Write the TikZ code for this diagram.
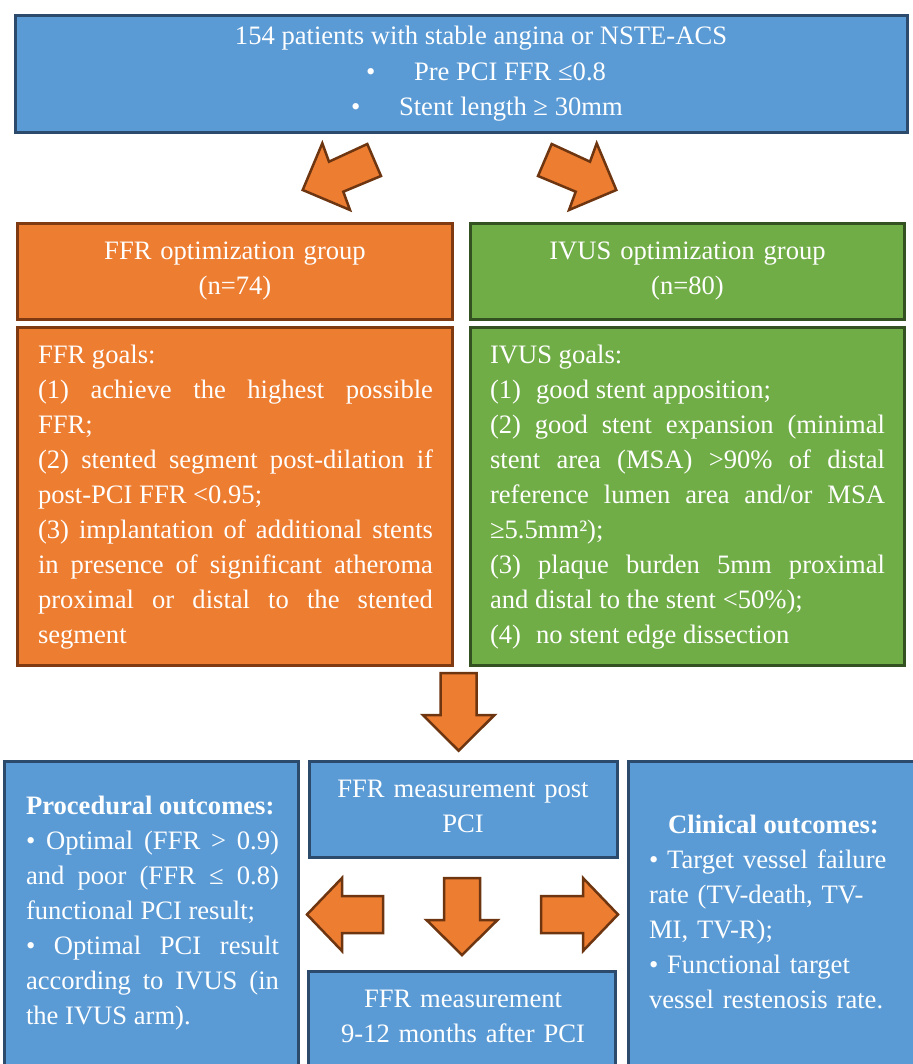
\documentclass[tikz,border=0pt]{standalone}
\usepackage{fontspec}
\setmainfont{Liberation Serif}
\definecolor{bluefill}{HTML}{5B9BD5}
\definecolor{blueline}{HTML}{2C4A6B}
\definecolor{orangefill}{HTML}{ED7D31}
\definecolor{orangeline}{HTML}{7F3A12}
\definecolor{greenfill}{HTML}{70AD47}
\definecolor{greenline}{HTML}{345221}
\definecolor{arrowline}{HTML}{6E3511}
\newcommand\mkbox[6]{\node[#1, minimum width={#5-#3-3}, minimum height={#6-#4-3}] (#2) at ({#3+1.5},{#4+1.5}) {};}
\newcommand\bodytext{\fontsize{26.6}{35}\selectfont}
\newcommand\parsetup{\parindent=0pt\relax\tolerance=10000\relax\hyphenpenalty=10000\relax\exhyphenpenalty=10000\relax}
\tikzset{
  boxbase/.style={rectangle, inner sep=0pt, outer sep=0pt, line width=3pt, anchor=north west},
  bluebox/.style={boxbase, draw=blueline, fill=bluefill},
  orangebox/.style={boxbase, draw=orangeline, fill=orangefill},
  greenbox/.style={boxbase, draw=greenline, fill=greenfill},
  blockarrow/.style={draw=arrowline, fill=orangefill, line width=2.5pt, line join=miter},
  txt/.style={text=white, inner sep=0pt, outer sep=0pt, font=\bodytext},
}
\begin{document}
\begin{tikzpicture}[x=1pt,y=-1pt]
\useasboundingbox (0,0) rectangle (912,1064);

% boxes
\mkbox{bluebox}{top}{14}{14}{909}{134.5}
\mkbox{orangebox}{ffrgrp}{16}{222}{454}{321}
\mkbox{greenbox}{ivusgrp}{469}{222}{906}{321}
\mkbox{orangebox}{ffrgoals}{16}{326}{454}{667}
\mkbox{greenbox}{ivusgoals}{469}{326}{906}{667}
\mkbox{bluebox}{proc}{3}{760}{300}{1072}
\mkbox{bluebox}{postpci}{308}{760}{619}{859}
\mkbox{bluebox}{followup}{307}{970}{617}{1072}
\mkbox{bluebox}{clin}{627}{760}{918}{1072}

% top texts
\node[txt, anchor=base] (toptxt) at (481,45) {154 patients with stable angina or NSTE-ACS};
\node[txt, anchor=base west] (bul1) at (366,80.5) {•};
\node[txt, anchor=base west] (crit1) at (414,80.5) {Pre PCI FFR ≤0.8};
\node[txt, anchor=base west] (bul2) at (351,116) {•};
\node[txt, anchor=base west] (crit2) at (399,116) {Stent length ≥ 30mm};

% group texts
\node[txt, anchor=north, align=center, text width=420] (ffrgrptxt) at (235,{259.5-24.5})
  {\strut FFR optimization group\\(n=74)};
\node[txt, anchor=north, align=center, text width=420] (ivusgrptxt) at (687.5,{259.5-24.5})
  {\strut IVUS optimization group\\(n=80)};

% goals
\node[txt, anchor=north west, align=justify, text width=395] (ffrgoalstxt) at (38,{363-24.5})
  {\parsetup\strut FFR goals:\par
   (1) achieve the highest possible\linebreak FFR;\par
   (2) stented segment post-dilation if\linebreak post-PCI FFR <0.95;\par
   (3) implantation of additional stents\linebreak in presence of significant atheroma\linebreak proximal or distal to the stented\linebreak segment\par};
\node[txt, anchor=north west, align=justify, text width=395] (ivusgoalstxt) at (490,{363-24.5})
  {\parsetup\strut IVUS goals:\par
   (1)\hspace{15pt}good stent apposition;\par
   (2) good stent expansion (minimal\linebreak stent area (MSA) >90\% of distal\linebreak reference lumen area and/or MSA\linebreak ≥5.5mm²);\par
   (3) plaque burden 5mm proximal\linebreak and distal to the stent <50\%);\par
   (4)\hspace{15pt}no stent edge dissection\par};

% bottom texts
\node[txt, anchor=north west, align=justify, text width=253] (proctxt) at (26,{814-24.5})
  {\parsetup\strut\textbf{Procedural outcomes:}\par
   • Optimal (FFR > 0.9)\linebreak and poor (FFR ≤ 0.8)\linebreak functional PCI result;\par
   • Optimal PCI result\linebreak according to IVUS (in\linebreak the IVUS arm).\par};
\node[txt, anchor=north, align=center, text width=300] (postpcitxt) at (463,{797-24.5})
  {\strut FFR measurement post\\PCI};
\node[txt, anchor=north, align=center, text width=300] (followuptxt) at (463,{1007-24.5})
  {\strut FFR measurement\\9-12 months after PCI};
\node[txt, anchor=base] (clinhead) at (773.5,833) {\textbf{Clinical outcomes:}};
\node[txt, anchor=north west, align=left, text width=262] (clintxt) at (649,{868-24.5})
  {\strut • Target vessel failure\\rate (TV-death, TV-\\MI, TV-R);\\• Functional target\\vessel restenosis rate.};

% block arrows, top
\draw[blockarrow] (322.3,143.3) -- (329,161.7) -- (367.3,144) -- (381,176) -- (343.3,191.7) -- (350,210) -- (302.7,190) -- cycle;
\draw[blockarrow] (596.7,143.3) -- (590,161.7) -- (551.7,144) -- (538,176) -- (575.7,191.7) -- (569,210) -- (616.3,190) -- cycle;
% middle down arrow
\draw[blockarrow] (440.7,673) -- (476.7,673) -- (476.7,715) -- (494.5,715) -- (458.7,750.7) -- (422.9,715) -- (440.7,715) -- cycle;
% bottom arrows
\draw[blockarrow] (383,896) -- (383,933) -- (342,933) -- (342,951) -- (307,914.5) -- (342,878) -- (342,896) -- cycle;
\draw[blockarrow] (444,878) -- (480,878) -- (480,920) -- (497.5,920) -- (462,955) -- (426.5,920) -- (444,920) -- cycle;
\draw[blockarrow] (541,896) -- (583,896) -- (583,878) -- (618,914.5) -- (583,951) -- (583,933) -- (541,933) -- cycle;
\end{tikzpicture}
\end{document}
